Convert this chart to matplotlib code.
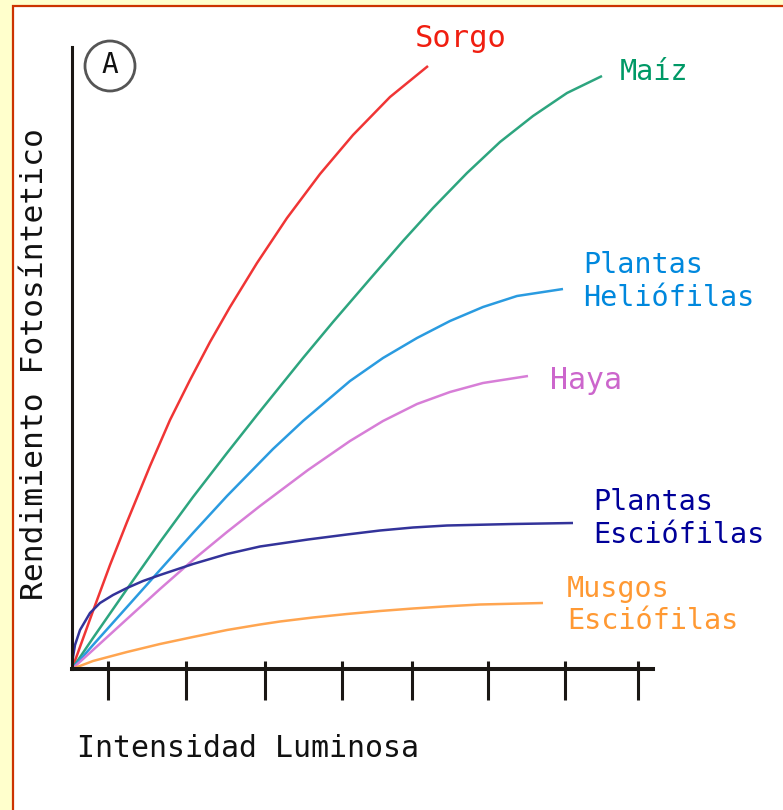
import matplotlib
matplotlib.use("Agg")
import matplotlib.pyplot as plt
from matplotlib.patches import Rectangle, Ellipse

# values (pixel-like units, origin at the axes corner)
sorgo_x = [0, 21, 38, 55, 78, 98, 118, 138, 158, 185, 215, 248, 281, 318, 356]
sorgo_y = [0, 58, 104, 147, 203, 249, 289, 327, 362, 406, 451, 495, 534, 572, 603]

maiz_x = [0, 21, 55, 88, 121, 155, 185, 231, 261, 298, 331, 361, 395, 428, 461, 495, 530]
maiz_y = [0, 31, 80, 127, 172, 216, 254, 311, 347, 390, 428, 461, 496, 527, 553, 576, 593]

helio_x = [0, 21, 55, 88, 121, 155, 201, 231, 278, 311, 345, 378, 411, 445, 491]
helio_y = [0, 24, 62, 99, 136, 173, 220, 248, 288, 311, 331, 348, 362, 373, 380]

haya_x = [0, 21, 55, 88, 121, 155, 188, 236, 278, 311, 345, 378, 411, 456]
haya_y = [0, 19, 50, 80, 109, 137, 163, 199, 228, 248, 265, 277, 286, 293]

escio_x = [0, 1, 3, 8, 18, 28, 41, 55, 71, 88, 121, 155, 188, 236, 275, 308, 341, 375, 441, 501]
escio_y = [0, 12, 24, 39, 56, 66, 74, 81, 88, 94, 105, 115, 122.5, 129.5, 134.5, 138.5, 141.5, 143.5, 145, 146]

musgo_x = [0, 21, 55, 88, 121, 155, 188, 208, 241, 275, 308, 341, 375, 408, 471]
musgo_y = [0, 8, 17, 25, 32, 39, 44.5, 47.5, 51.5, 55, 58, 60.5, 62.7, 64.5, 66]

tick_pos = [36, 114, 193, 270, 340, 416, 493, 566]

W, H = 783, 810
fig = plt.figure(figsize=(W / 100, H / 100), dpi=100)
fig.patch.set_facecolor("#FFFFCC")
plt.rcParams["font.family"] = "DejaVu Sans Mono"

# white panel with orange-red frame
fig.add_artist(Rectangle((13 / W, -0.05), 1.0, 1 - 6 / H + 0.05, transform=fig.transFigure,
                         facecolor="white", edgecolor="#CC3300", linewidth=1.6, zorder=0))

ax = fig.add_axes([72 / W, (H - 669) / H, 581 / W, 622 / H])
ax.patch.set_alpha(0)
axis_col = "#1A1714"

line_kw = dict(lw=1.8, solid_capstyle="butt", solid_joinstyle="round")
ax.plot(sorgo_x, sorgo_y, color="#F03535", **line_kw)
ax.plot(maiz_x, maiz_y, color="#2DA57F", **line_kw)
ax.plot(helio_x, helio_y, color="#2A9BE0", **line_kw)
ax.plot(haya_x, haya_y, color="#D77ED7", **line_kw)
ax.plot(escio_x, escio_y, color="#33339A", **line_kw)
ax.plot(musgo_x, musgo_y, color="#FFA550", **line_kw)

ax.set_xlim(0, 581)
ax.set_ylim(0, 622)
for s in ["top", "right"]:
    ax.spines[s].set_visible(False)
ax.spines["bottom"].set_linewidth(2.9)
ax.spines["left"].set_linewidth(2.2)
ax.spines["bottom"].set_color(axis_col)
ax.spines["left"].set_color(axis_col)

ax.set_yticks([])
ax.set_xticks(tick_pos)
ax.set_xticks(tick_pos, minor=True)
ax.xaxis.remove_overlapping_locs = False
ax.tick_params(axis="x", which="major", direction="out", length=22, width=2.2,
               color=axis_col, labelbottom=False)
ax.tick_params(axis="x", which="minor", direction="in", length=6, width=2.2,
               color=axis_col, labelbottom=False)


def ftext(px, py, s, color, size=20.5, **kw):
    fig.text(px / W, 1 - py / H, s, color=color, fontsize=size, ha="left", va="baseline", **kw)


# series labels (left x, baseline y in pixels)
ftext(415, 47, "Sorgo", "#F01E10", size=22)
ftext(620, 80, "Maíz", "#009966")
ftext(583, 273, "Plantas", "#0088DD")
ftext(583, 306, "Heliófilas", "#0088DD")
ftext(550, 389, "Haya", "#CC66CC", size=21.5)
ftext(593, 510, "Plantas", "#000099")
ftext(593, 543, "Esciófilas", "#000099")
ftext(567, 597, "Musgos", "#FF9933")
ftext(567, 629, "Esciófilas", "#FF9933")

# axis titles
ftext(77, 757, "Intensidad Luminosa", "#111111", size=21.5)
fig.text(43 / W, 1 - 364 / H, "Rendimiento Fotosíntetico", color="#111111", fontsize=22.5,
         rotation=90, rotation_mode="anchor", ha="center", va="baseline")

# circled A
fig.add_artist(Ellipse((110 / W, 1 - 66 / H), 50 / W, 50 / H, transform=fig.transFigure,
                       facecolor="white", edgecolor="#555555", linewidth=2.0, zorder=3))
fig.text(110 / W, 1 - 73 / H, "A", color="#111111", fontsize=20, ha="center",
         va="baseline", zorder=4)

fig.savefig("out.png", dpi=100, facecolor=fig.get_facecolor())
